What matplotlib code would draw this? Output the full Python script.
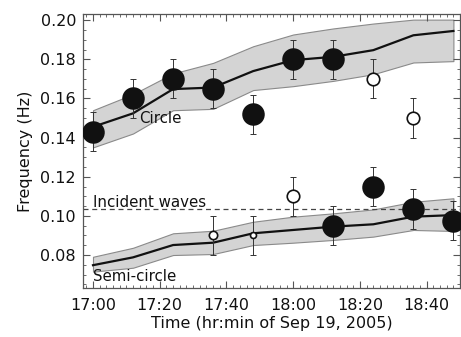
import matplotlib
matplotlib.use("Agg")
import matplotlib.pyplot as plt
import numpy as np
from matplotlib.ticker import MultipleLocator, FuncFormatter

times = ['17:00', '17:12', '17:24', '17:36', '17:48',
         '18:00', '18:12', '18:24', '18:36', '18:48']

# model curves with their spread
circle_mean = [0.1455, 0.1524, 0.1648, 0.1656, 0.1740, 0.1796, 0.1813, 0.1847, 0.1923, 0.1945]
circle_hi = [0.1540, 0.1622, 0.1728, 0.1782, 0.1867, 0.1927, 0.1958, 0.1983, 0.2003, 0.2003]
circle_lo = [0.1350, 0.1421, 0.1540, 0.1547, 0.1643, 0.1663, 0.1690, 0.1724, 0.1784, 0.1791]

semi_mean = [0.0748, 0.0788, 0.0851, 0.0863, 0.0911, 0.0928, 0.0945, 0.0957, 0.0996, 0.1004]
semi_hi = [0.0791, 0.0837, 0.0911, 0.0924, 0.0970, 0.0996, 0.1013, 0.1033, 0.1072, 0.1090]
semi_lo = [0.0715, 0.0735, 0.0800, 0.0805, 0.0851, 0.0863, 0.0877, 0.0894, 0.0928, 0.0923]

# observed peaks
obs_times = ['17:00', '17:12', '17:24', '17:36', '17:48', '18:00', '18:12', '18:24', '18:36',
             '17:36', '17:48', '18:00', '18:12', '18:24', '18:36', '18:48']
obs_freq = [0.143, 0.160, 0.170, 0.165, 0.152, 0.180, 0.180, 0.170, 0.150,
            0.090, 0.090, 0.110, 0.095, 0.115, 0.1035, 0.0975]
obs_err = [0.01] * 16
obs_filled = [1, 1, 1, 1, 1, 1, 1, 0, 0,
              0, 0, 0, 1, 1, 1, 1]
obs_size = [15, 15, 15, 15, 15, 15, 15, 9, 9,
            6, 4.3, 9, 15, 15, 15, 15]

incident = 0.1035


def to_min(t):
    h, m = t.split(':')
    return (int(h) - 17) * 60 + int(m)


x = np.array([to_min(t) for t in times])
ox = np.array([to_min(t) for t in obs_times])

fig = plt.figure(figsize=(4.61, 3.37), dpi=100)
ax = fig.add_axes([0.18, 0.144, 0.818, 0.814])

ax.fill_between(x, circle_lo, circle_hi, facecolor='#d4d4d4', edgecolor='#8a8a8a', lw=0.8, zorder=1)
ax.fill_between(x, semi_lo, semi_hi, facecolor='#d4d4d4', edgecolor='#8a8a8a', lw=0.8, zorder=1)
ax.plot(x, circle_mean, color='#111111', lw=1.6, zorder=2)
ax.plot(x, semi_mean, color='#111111', lw=1.6, zorder=2)
ax.axhline(incident, color='#444444', lw=0.9, ls=(0, (4, 3)), zorder=2)

ax.errorbar(ox, obs_freq, yerr=obs_err, fmt='none', ecolor='#333333', elinewidth=0.7,
            capsize=2, capthick=0.7, zorder=3)
for xi, yi, f, s in zip(ox, obs_freq, obs_filled, obs_size):
    ax.plot(xi, yi, 'o', ms=s, mfc='#111111' if f else 'white', mec='#111111',
            mew=1.2, zorder=4)

ax.text(13.8, 0.1474, 'Circle', fontsize=10.8, color='#111111', zorder=5)
ax.text(0, 0.1047, 'Incident waves', fontsize=10.8, color='#111111', zorder=5)
ax.text(0, 0.0667, 'Semi-circle', fontsize=10.8, color='#111111', zorder=5)

ax.set_xlim(-3, 110)
ax.set_ylim(0.0629, 0.2031)
ax.xaxis.set_major_locator(MultipleLocator(20))
ax.xaxis.set_minor_locator(MultipleLocator(2))
ax.yaxis.set_major_locator(MultipleLocator(0.02))
ax.yaxis.set_minor_locator(MultipleLocator(0.005))
ax.xaxis.set_major_formatter(FuncFormatter(lambda v, p: '%d:%02d' % (17 + int(v) // 60, int(v) % 60)))
ax.yaxis.set_major_formatter(FuncFormatter(lambda v, p: '%.2f' % v))
ax.tick_params(which='both', direction='in', top=True, right=True, colors='#555555',
               labelcolor='#111111', labelsize=11.5)
ax.tick_params(which='major', length=5, width=0.8, pad=5)
ax.tick_params(axis='x', which='major', pad=7)
ax.tick_params(which='minor', length=2.5, width=0.6)
for s in ax.spines.values():
    s.set_color('#555555')
    s.set_linewidth(0.9)

ax.set_xlabel('Time (hr:min of Sep 19, 2005)', fontsize=11.5, color='#111111', labelpad=2)
ax.set_ylabel('Frequency (Hz)', fontsize=11.5, color='#111111', labelpad=5)

fig.savefig('out.png', dpi=100)
